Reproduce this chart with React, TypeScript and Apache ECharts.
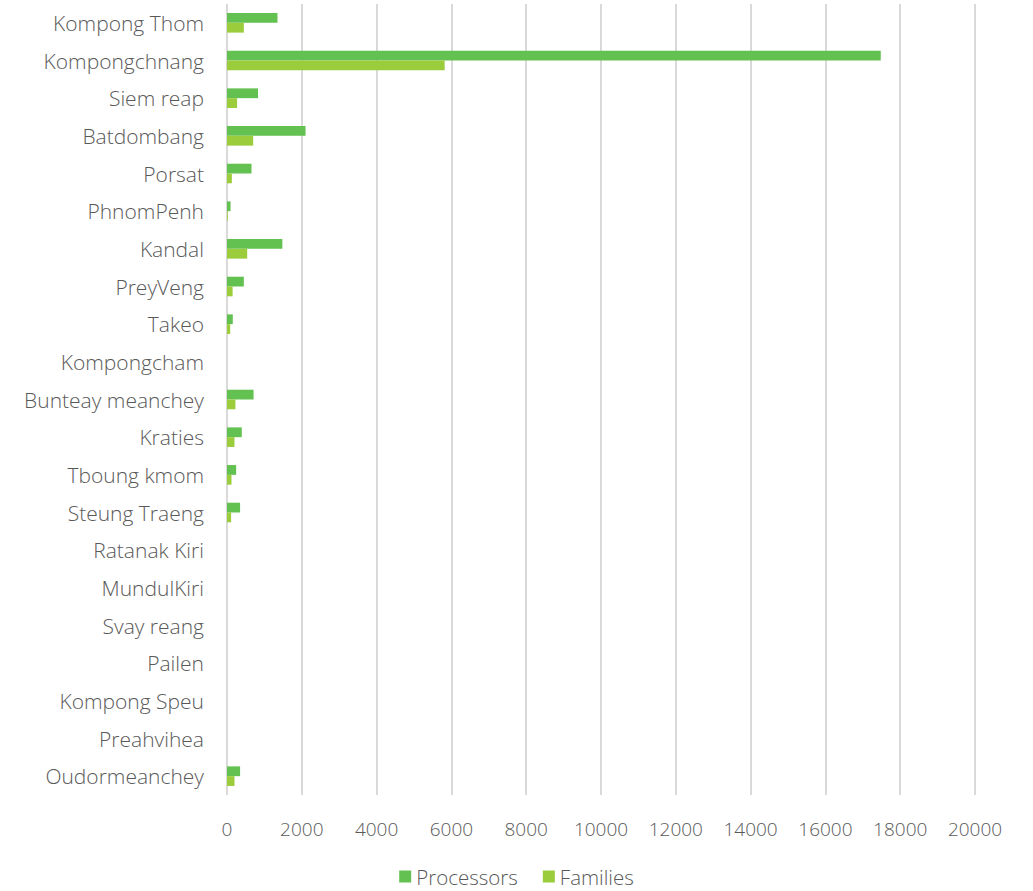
import React, { useEffect, useRef } from "react";
import * as echarts from "echarts";

const categories = [
  "Kompong Thom", "Kompongchnang", "Siem reap", "Batdombang", "Porsat", "PhnomPenh",
  "Kandal", "PreyVeng", "Takeo", "Kompongcham", "Bunteay meanchey", "Kraties",
  "Tboung kmom", "Steung Traeng", "Ratanak Kiri", "MundulKiri", "Svay reang",
  "Pailen", "Kompong Speu", "Preahvihea", "Oudormeanchey",
];
const processors = [1350, 17480, 830, 2100, 655, 95, 1480, 450, 155, 0, 710, 395, 245, 350, 0, 0, 0, 0, 0, 0, 350];
const families = [450, 5820, 270, 700, 130, 20, 540, 150, 85, 0, 225, 200, 120, 110, 0, 0, 0, 0, 0, 0, 200];
const xTicks = { min: 0, max: 20000, interval: 2000 };

const FONT = "'Open Sans', 'Noto Sans', sans-serif";

export default function App() {
  const ref = useRef<HTMLDivElement>(null);
  useEffect(() => {
    if (!ref.current) return;
    const chart = echarts.init(ref.current, undefined, { renderer: "svg" });
    chart.setOption({
      animation: false,
      textStyle: { fontFamily: FONT },
      grid: { left: 227, right: 58, top: 4, bottom: 96, containLabel: false },
      legend: {
        bottom: -1,
        left: "center",
        itemWidth: 12,
        itemHeight: 12,
        itemGap: 25,
        icon: "rect",
        textStyle: { fontSize: 20.5, color: "#595959", fontWeight: 300, fontFamily: FONT },
        data: ["Processors", "Families"],
      },
      xAxis: {
        type: "value",
        min: xTicks.min,
        max: xTicks.max,
        interval: xTicks.interval,
        axisLine: { show: false },
        axisTick: { show: false },
        axisLabel: {
          fontSize: 19,
          color: "#595959",
          fontWeight: 300,
          margin: 24,
          fontFamily: "'Liberation Sans Narrow', 'Open Sans', sans-serif",
          formatter: (v: number) => String(v),
        },
        splitLine: { show: true, lineStyle: { color: "#d9d9d9", width: 2 } },
      },
      yAxis: {
        type: "category",
        data: categories,
        inverse: true,
        axisLine: { show: false },
        axisTick: { show: false },
        axisLabel: { fontSize: 21, color: "#595959", fontWeight: 300, margin: 23 },
      },
      series: [
        {
          name: "Processors",
          type: "bar",
          data: processors,
          barGap: "0%",
          barCategoryGap: "48%",
          itemStyle: { color: "#62c150" },
        },
        {
          name: "Families",
          type: "bar",
          data: families,
          barGap: "0%",
          barCategoryGap: "48%",
          itemStyle: { color: "#9bcc3b" },
        },
      ],
    });
    return () => chart.dispose();
  }, []);
  return (
    <div
      ref={ref}
      style={{ position: "fixed", left: 0, top: 0, width: 1033, height: 891, background: "#fff" }}
    />
  );
}
